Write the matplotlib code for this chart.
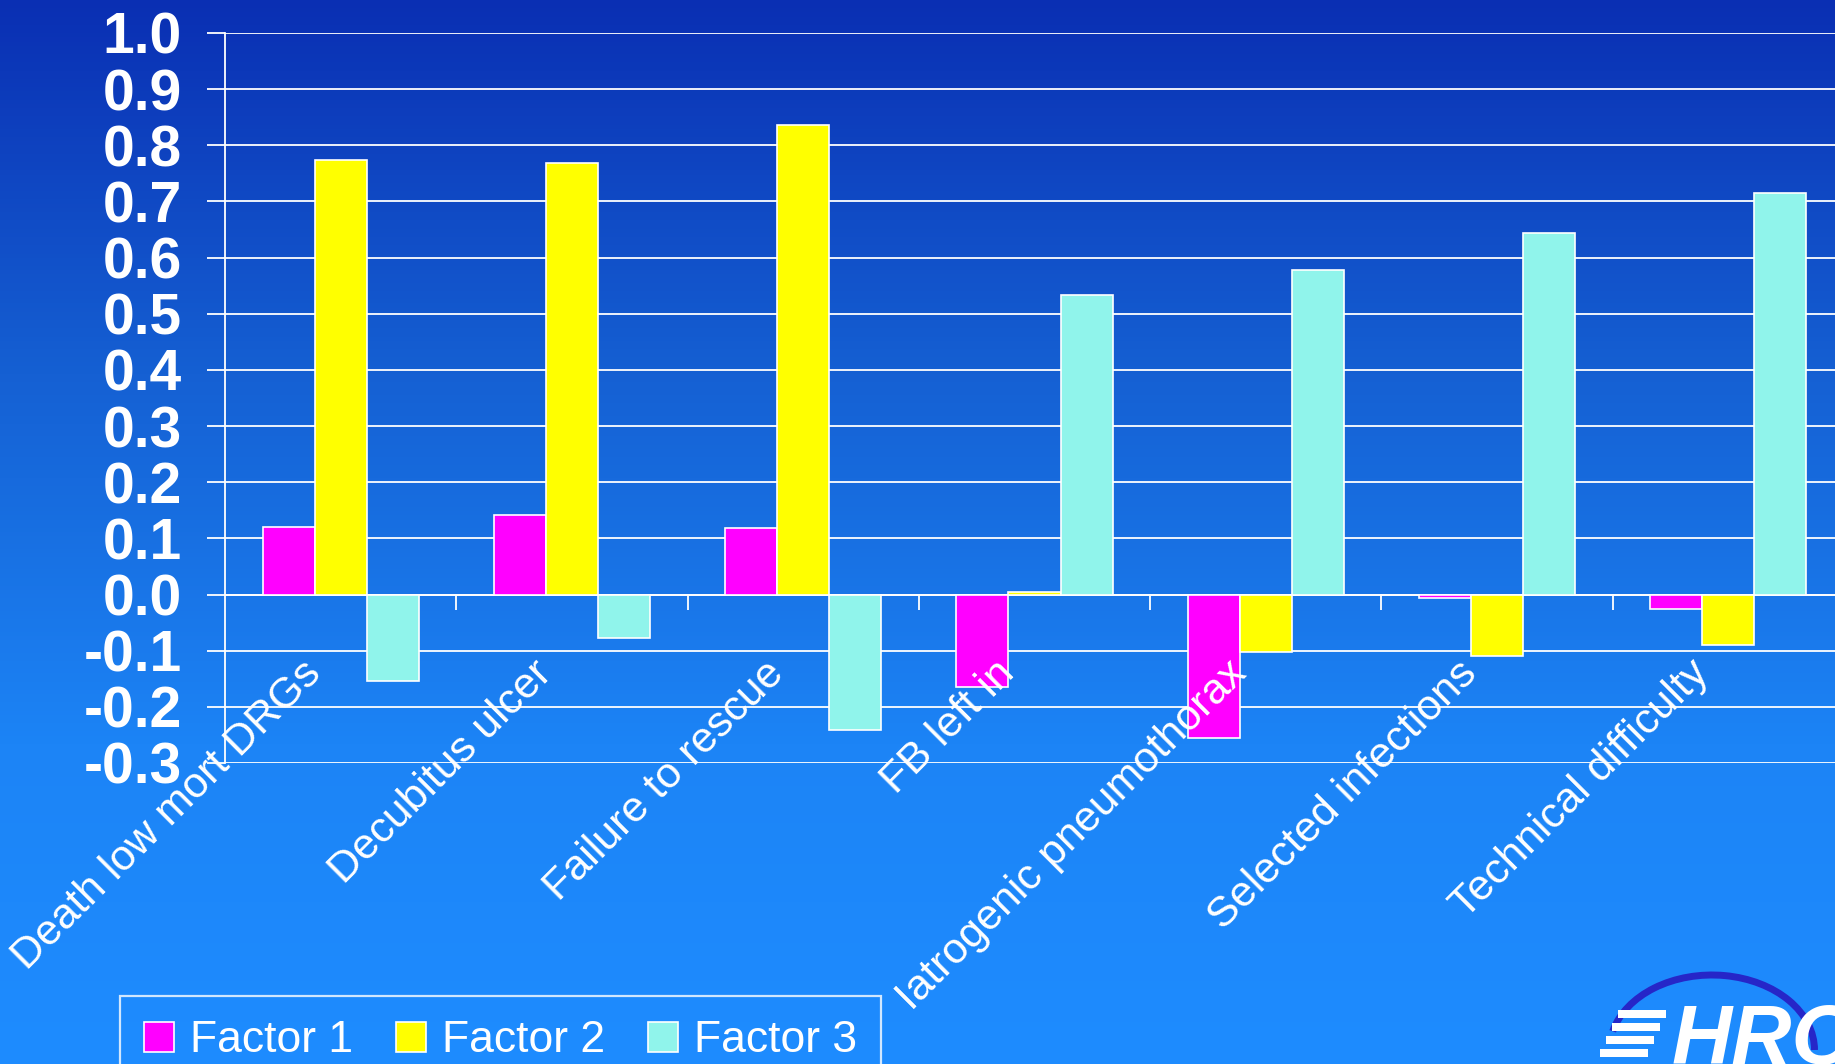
"""Factor loadings of patient safety indicators, three-factor solution."""

import matplotlib
matplotlib.use("Agg")
import matplotlib.pyplot as plt
import numpy as np
from matplotlib.colors import LinearSegmentedColormap
from matplotlib.patches import Arc, Rectangle
from matplotlib.transforms import ScaledTranslation

plt.rcParams["font.family"] = ["Liberation Sans", "DejaVu Sans"]
plt.rcParams["axes.unicode_minus"] = False

categories = [
    "Death low mort DRGs",
    "Decubitus ulcer",
    "Failure to rescue",
    "FB left in",
    "Iatrogenic pneumothorax",
    "Selected infections",
    "Technical difficulty",
]
factor1 = [0.121, 0.142, 0.119, -0.164, -0.256, -0.006, -0.025]
factor2 = [0.773, 0.769, 0.837, 0.004, -0.102, -0.110, -0.090]
factor3 = [-0.154, -0.078, -0.242, 0.533, 0.578, 0.644, 0.715]
series_names = ["Factor 1", "Factor 2", "Factor 3"]
series_colors = ["#ff00ff", "#ffff00", "#90f4eb"]

W, H, DPI = 1835, 1064, 100
PT = 72 / DPI  # points per pixel
fig = plt.figure(figsize=(W / DPI, H / DPI), dpi=DPI)

# background gradient
bg = fig.add_axes([0, 0, 1, 1], zorder=-10)
bg.axis("off")
cmap = LinearSegmentedColormap.from_list(
    "bg", [(0.0, "#0a2fb3"), (0.35, "#1560d3"), (0.7, "#1c84f6"), (1.0, "#1e8cff")])
bg.imshow(np.linspace(0, 1, 256)[:, None], aspect="auto", cmap=cmap,
          extent=[0, 1, 0, 1], origin="upper")
bg.set_xlim(0, 1); bg.set_ylim(0, 1)

ax = fig.add_axes([225 / W, 1 - 763 / H, (1844 - 225) / W, (763 - 33) / H])
ax.set_facecolor("none")

x = np.arange(len(categories))
bw = 0.225
for i, (vals, name, col) in enumerate(zip([factor1, factor2, factor3],
                                          series_names, series_colors)):
    ax.bar(x + (i - 1) * bw, vals, bw, color=col, edgecolor="white",
           linewidth=1.2, label=name, zorder=3)

yt = np.round(np.arange(-0.3, 1.01, 0.1), 1)
ax.set_xlim(-0.5, len(categories) - 0.5)
ax.set_ylim(-0.3, 1.0)
ax.set_yticks(yt)
ax.set_yticklabels([f"{v:.1f}" for v in yt])
ax.grid(axis="y", color="white", linewidth=1.3)
ax.tick_params(axis="y", colors="white", length=18 * PT, width=1.3,
               pad=25 * PT, labelsize=41)
for lab in ax.get_yticklabels():
    lab.set_fontweight("bold")
# grid behind the bars, category labels on top of them
ax.yaxis.set_zorder(1)
ax.xaxis.set_zorder(5)

for s in ("top", "right"):
    ax.spines[s].set_visible(False)
ax.spines["left"].set_color("white")
ax.spines["left"].set_linewidth(1.3)
ax.spines["bottom"].set_position(("data", 0))
ax.spines["bottom"].set_color("white")
ax.spines["bottom"].set_linewidth(1.3)
ax.spines["bottom"].set_zorder(1)

ax.set_xticks(x)
ax.set_xticks(np.arange(0.5, len(categories) - 0.5), minor=True)
ax.tick_params(axis="x", which="minor", colors="white", length=15 * PT,
               width=1.3)
ax.tick_params(axis="x", which="major", length=0, pad=38)
ax.set_xticklabels(categories, rotation=45, ha="right", va="top",
                   rotation_mode="anchor", color="white", fontsize=31)
shift = ScaledTranslation(-40 / DPI, -6 / DPI, fig.dpi_scale_trans)
for lab in ax.get_xticklabels():
    lab.set_transform(lab.get_transform() + shift)

leg = fig.legend(loc="upper left", bbox_to_anchor=(120 / W, 1 - 996 / H),
                 ncol=3, fontsize=32, frameon=True, fancybox=False,
                 handlelength=0.66, handleheight=0.66, handletextpad=0.36,
                 columnspacing=0.98, borderpad=0.55, borderaxespad=0)
leg.get_frame().set_facecolor("none")
leg.get_frame().set_edgecolor("white")
leg.get_frame().set_linewidth(1.6)
for t in leg.get_texts():
    t.set_color("white")

# logo in the bottom right corner
bg.add_patch(Arc((1712 / W, 1 - 1050 / H), 205 / W, 150 / H, theta1=0,
                 theta2=162, color="#2626c8", linewidth=5))
for k in range(4):
    y0 = 1010 + k * 13
    bg.add_patch(Rectangle(((1618 - k * 6) / W, 1 - (y0 + 8) / H), 48 / W,
                           8 / H, color="white", lw=0))
bg.text(1672 / W, 1 - 1003 / H, "HRQ", color="white", fontsize=60,
        fontweight="bold", fontstyle="italic", ha="left", va="top")

fig.savefig("out.png", dpi=DPI)
